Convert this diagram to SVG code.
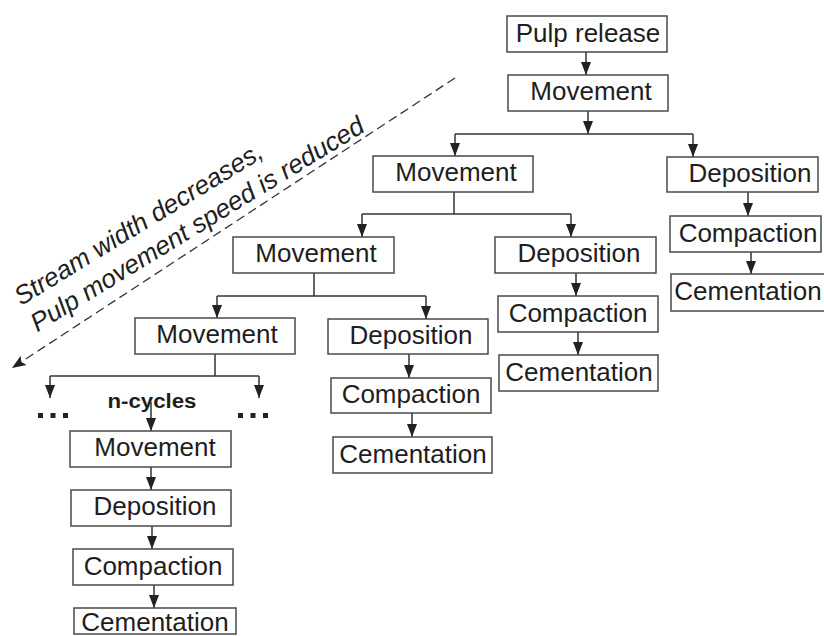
<svg xmlns="http://www.w3.org/2000/svg" width="824" height="636" viewBox="0 0 824 636">
<style>
.box{fill:#fff;stroke:#4a4a4a;stroke-width:1.5}
.t{font-family:"Liberation Sans",Arial,sans-serif;font-size:26px;fill:#1e1e1e;text-anchor:middle}
.ln{fill:none;stroke:#333;stroke-width:1.5}
.dash{fill:none;stroke:#333;stroke-width:1.3;stroke-dasharray:9 5}
.dg{font-family:"Liberation Sans",Arial,sans-serif;font-size:26px;font-style:italic;fill:#1e1e1e}
.nc{font-family:"Liberation Sans",Arial,sans-serif;font-size:20px;font-weight:bold;fill:#1e1e1e;text-anchor:middle}
.dot{fill:#222}
</style>
<defs>
<marker id="ah" markerUnits="userSpaceOnUse" markerWidth="13" markerHeight="11" refX="13" refY="5.5" orient="auto">
<path d="M0,0.5 L13,5.5 L0,10.5 z" fill="#222"/>
</marker>
<marker id="ahd" markerUnits="userSpaceOnUse" markerWidth="15" markerHeight="12" refX="14" refY="6" orient="auto">
<path d="M0,0.5 L14,6 L0,11.5 L3,6 z" fill="#222"/>
</marker>
</defs>
<rect width="824" height="636" fill="#fff"/>

<g id="connectors">
<path class="ln" d="M586,52 V75" marker-end="url(#ah)"/>
<path class="ln" d="M588,111 V134" marker-end="url(#ah)"/>
<path class="ln" d="M455,134 H693"/>
<path class="ln" d="M455,134 V156" marker-end="url(#ah)"/>
<path class="ln" d="M693,134 V157" marker-end="url(#ah)"/>
<path class="ln" d="M748,192 V216" marker-end="url(#ah)"/>
<path class="ln" d="M751,252 V274" marker-end="url(#ah)"/>
<path class="ln" d="M454,192 V214"/>
<path class="ln" d="M362,214 H571"/>
<path class="ln" d="M362,214 V237" marker-end="url(#ah)"/>
<path class="ln" d="M571,214 V237" marker-end="url(#ah)"/>
<path class="ln" d="M576,273 V296" marker-end="url(#ah)"/>
<path class="ln" d="M578,332 V355" marker-end="url(#ah)"/>
<path class="ln" d="M314,273 V296"/>
<path class="ln" d="M217,296 H426"/>
<path class="ln" d="M217,296 V318" marker-end="url(#ah)"/>
<path class="ln" d="M426,296 V319" marker-end="url(#ah)"/>
<path class="ln" d="M409,354 V378" marker-end="url(#ah)"/>
<path class="ln" d="M412,413 V437" marker-end="url(#ah)"/>
<path class="ln" d="M215,354 V376"/>
<path class="ln" d="M50,376 H259"/>
<path class="ln" d="M50,376 V398" marker-end="url(#ah)"/>
<path class="ln" d="M259,376 V398" marker-end="url(#ah)"/>
<path class="ln" d="M151,402 V431" marker-end="url(#ah)"/>
<path class="ln" d="M151,467 V490" marker-end="url(#ah)"/>
<path class="ln" d="M152,526 V549" marker-end="url(#ah)"/>
<path class="ln" d="M154,585 V608" marker-end="url(#ah)"/>
<path class="dash" d="M455,78 L12,368" marker-end="url(#ahd)"/>
</g>

<g id="trend-label">
<g transform="translate(21,306) rotate(-31.5)">
<text class="dg" x="0" y="0">Stream width decreases,</text>
<text class="dg" x="0" y="31">Pulp movement speed is reduced</text>
</g>
</g>

<g id="pulp-release"><rect class="box" x="507" y="16" width="160" height="36"/><text class="t" x="588" y="42">Pulp release</text></g>
<g id="movement-1"><rect class="box" x="508" y="75" width="160" height="36"/><text class="t" x="591" y="100">Movement</text></g>

<g id="deposition-1"><rect class="box" x="667" y="157" width="151" height="35"/><text class="t" x="750" y="182">Deposition</text></g>
<g id="compaction-1"><rect class="box" x="670" y="216" width="151" height="36"/><text class="t" x="748" y="242">Compaction</text></g>
<g id="cementation-1"><rect class="box" x="671" y="274" width="162" height="37"/><text class="t" x="748" y="300">Cementation</text></g>

<g id="movement-2"><rect class="box" x="373" y="156" width="160" height="36"/><text class="t" x="456" y="181">Movement</text></g>
<g id="deposition-2"><rect class="box" x="495" y="237" width="161" height="36"/><text class="t" x="579" y="262">Deposition</text></g>
<g id="compaction-2"><rect class="box" x="498" y="296" width="160" height="36"/><text class="t" x="578" y="322">Compaction</text></g>
<g id="cementation-2"><rect class="box" x="499" y="355" width="159" height="36"/><text class="t" x="579" y="381">Cementation</text></g>

<g id="movement-3"><rect class="box" x="233" y="237" width="161" height="36"/><text class="t" x="316" y="262">Movement</text></g>
<g id="deposition-3"><rect class="box" x="328" y="319" width="160" height="35"/><text class="t" x="411" y="344">Deposition</text></g>
<g id="compaction-3"><rect class="box" x="331" y="378" width="160" height="35"/><text class="t" x="411" y="403">Compaction</text></g>
<g id="cementation-3"><rect class="box" x="333" y="437" width="159" height="36"/><text class="t" x="413" y="463">Cementation</text></g>

<g id="movement-4"><rect class="box" x="135" y="318" width="160" height="36"/><text class="t" x="217" y="343">Movement</text></g>

<g id="ellipsis-left"><rect class="dot" x="38" y="413" width="5" height="5"/><rect class="dot" x="50.5" y="413" width="5" height="5"/><rect class="dot" x="63" y="413" width="5" height="5"/></g>
<g id="ellipsis-right"><rect class="dot" x="238" y="413" width="5" height="5"/><rect class="dot" x="250.5" y="413" width="5" height="5"/><rect class="dot" x="263" y="413" width="5" height="5"/></g>
<g id="n-cycles"><text class="nc" x="152" y="408" textLength="89" lengthAdjust="spacingAndGlyphs">n-cycles</text></g>

<g id="movement-n"><rect class="box" x="70" y="431" width="161" height="36"/><text class="t" x="155" y="456">Movement</text></g>
<g id="deposition-n"><rect class="box" x="71" y="490" width="160" height="36"/><text class="t" x="155" y="515">Deposition</text></g>
<g id="compaction-n"><rect class="box" x="73" y="549" width="160" height="36"/><text class="t" x="153" y="575">Compaction</text></g>
<g id="cementation-n"><rect class="box" x="74" y="608" width="162" height="26"/><text class="t" x="155" y="631">Cementation</text></g>
</svg>
